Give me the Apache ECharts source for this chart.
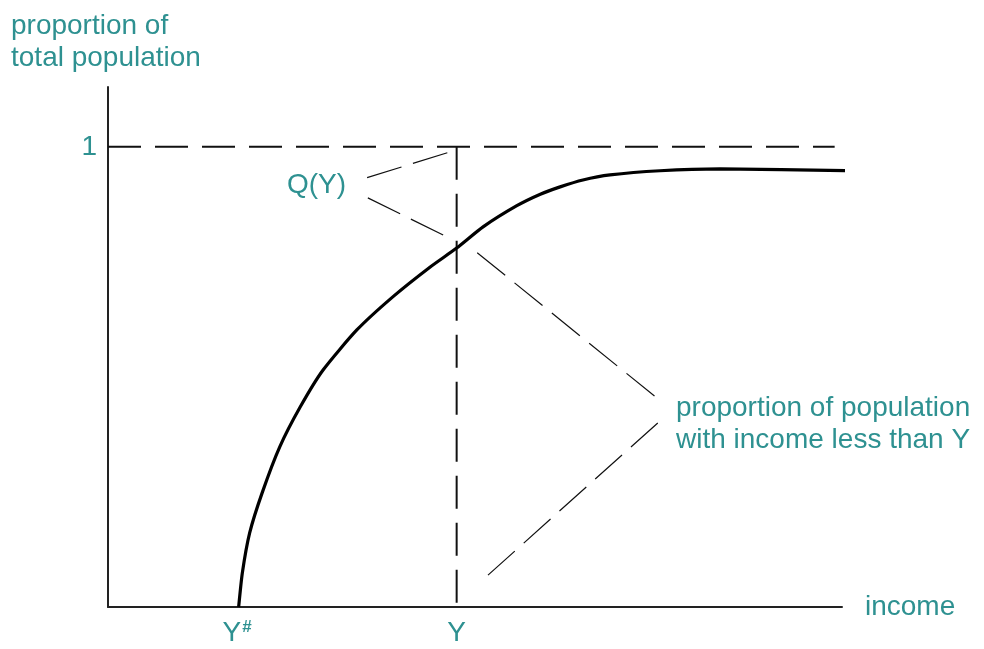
<!DOCTYPE html>
<html>
<head>
<meta charset="utf-8">
<title>Income distribution</title>
<script src="https://cdn.jsdelivr.net/npm/echarts@6/dist/echarts.min.js"></script>
<style>
  html, body { margin: 0; padding: 0; background: #fff; }
  #chart { width: 984px; height: 649px; }
</style>
</head>
<body>
<div id="chart"></div>
<script>
// cumulative share of population by income
var incomeX = [17.8, 18.3, 19.3, 21.0, 23.4, 26.2, 29.3, 33.9, 38.8, 43.9, 47.5, 51.1, 55.7, 58.9, 61.6, 64.7, 68.4, 75.2, 83.4, 100.8];
var shareY  = [0, 0.074, 0.161, 0.248, 0.348, 0.435, 0.515, 0.602, 0.674, 0.739, 0.780, 0.826, 0.872, 0.897, 0.913, 0.928, 0.939, 0.948, 0.952, 0.948];

var yHash = 17.6;      // Y#
var yIncome = 47.5;    // Y
var xTickValues = [yHash, yIncome];
var xTickLabels = ['{a|Y}{s|#}', '{a|Y}'];
var yTickValues = [1];
var yTickLabels = ['1'];

// guide lines
var topLine = [[0, 1], [99, 1]];
var incomeLine = [[yIncome, 1], [yIncome, -0.012]];

// pointer lines for the notes
var qLine1 = [[35.3, 0.933], [46.6, 0.989]];
var qLine2 = [[35.4, 0.889], [46.2, 0.804]];
var pLine1 = [[50.3, 0.770], [74.8, 0.454]];
var pLine2 = [[74.9, 0.400], [50.7, 0.054]];

var teal = '#2e9191';
var font = 'Liberation Sans, Arial, sans-serif';

var chart = echarts.init(document.getElementById('chart'));

var curveData = incomeX.map(function (x, i) { return [x, shareY[i]]; });

function guide(data, width, dash) {
    return {
        type: 'line',
        data: data,
        showSymbol: false,
        clip: false,
        silent: true,
        lineStyle: { color: '#111', width: width, type: dash }
    };
}

var option = {
    animation: false,
    backgroundColor: '#fff',
    grid: { left: 108, right: 142, top: 87, bottom: 42 },
    xAxis: {
        type: 'value',
        min: 0,
        max: 100,
        name: 'income',
        nameLocation: 'end',
        nameGap: 23,
        nameTextStyle: { color: teal, fontSize: 28, fontFamily: font, verticalAlign: 'middle' },
        axisLine: { lineStyle: { color: '#222', width: 2 } },
        axisTick: { show: false },
        splitLine: { show: false },
        axisLabel: {
            customValues: xTickValues,
            margin: 12,
            formatter: function (v) {
                var i = xTickValues.indexOf(v);
                return i >= 0 ? xTickLabels[i] : '';
            },
            rich: {
                a: { color: teal, fontSize: 28, fontFamily: font },
                s: { color: teal, fontSize: 17, fontFamily: font, fontWeight: 'bold', verticalAlign: 'top', padding: [0, 0, 12, 1] }
            }
        }
    },
    yAxis: {
        type: 'value',
        min: 0,
        max: 1.13,
        axisLine: { show: true, lineStyle: { color: '#222', width: 2 } },
        axisTick: { show: false },
        splitLine: { show: false },
        axisLabel: {
            customValues: yTickValues,
            margin: 11,
            color: teal,
            fontSize: 28,
            fontFamily: font,
            formatter: function (v) {
                var i = yTickValues.indexOf(v);
                return i >= 0 ? yTickLabels[i] : '';
            }
        }
    },
    graphic: [
        {
            type: 'text', left: 11, top: 10,
            style: { text: 'proportion of\ntotal population', fill: teal, fontSize: 28, lineHeight: 32, fontFamily: font }
        },
        {
            type: 'text', left: 287, top: 171,
            style: { text: 'Q(Y)', fill: teal, fontSize: 28, fontFamily: font }
        },
        {
            type: 'text', left: 676, top: 392,
            style: { text: 'proportion of population\nwith income less than Y', fill: teal, fontSize: 28, lineHeight: 32, fontFamily: font }
        }
    ],
    series: [
        guide(topLine, 2, [33, 14]),
        guide(incomeLine, 2, [33, 14]),
        guide(qLine1, 1.2, [36, 12]),
        guide(qLine2, 1.2, [36, 12]),
        guide(pLine1, 1.2, [36, 12]),
        guide(pLine2, 1.2, [36, 12]),
        {
            type: 'line',
            data: curveData,
            showSymbol: false,
            smooth: 0.2,
            clip: false,
            lineStyle: { color: '#000', width: 3.2 }
        }
    ]
};

chart.setOption(option);
</script>
</body>
</html>
